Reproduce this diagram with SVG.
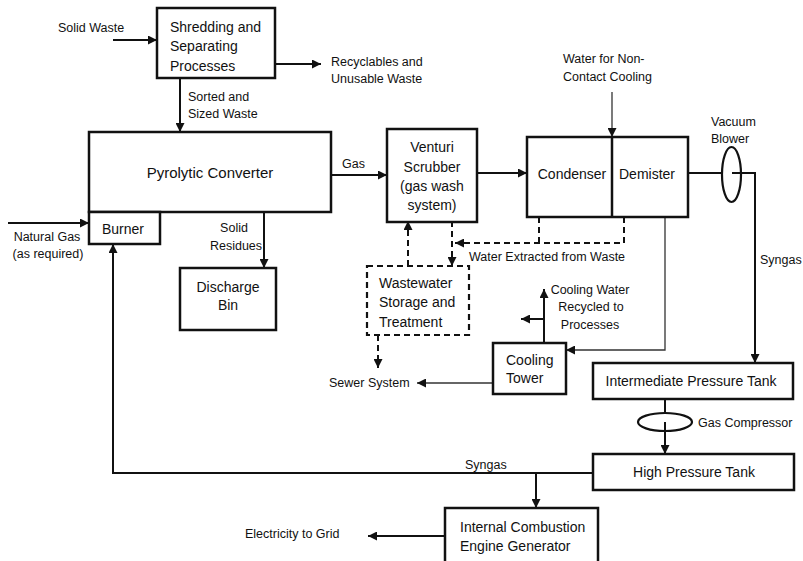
<svg xmlns="http://www.w3.org/2000/svg" width="803" height="561" viewBox="0 0 803 561">
<style>
text{font-family:"Liberation Sans",Arial,sans-serif;fill:#111}
.b{font-size:14px}
.s{font-size:12.5px}
.box{fill:#fff;stroke:#111;stroke-width:2.5}
.dbox{fill:#fff;stroke:#111;stroke-width:2.2;stroke-dasharray:6,4}
.ln{fill:none;stroke:#111;stroke-width:2}
.th{fill:none;stroke:#333;stroke-width:1.3}
.dl{fill:none;stroke:#111;stroke-width:2;stroke-dasharray:6,4}
.m{text-anchor:middle}
</style>
<defs>
<marker id="ah" viewBox="0 0 10 10" refX="10" refY="5" markerWidth="10" markerHeight="9" markerUnits="userSpaceOnUse" orient="auto">
<path d="M0,0 L10,5 L0,10 z" fill="#111"/>
</marker>
</defs>
<g id="connectors">
<path class="ln" d="M113,40 H157" marker-end="url(#ah)"/>
<path class="ln" d="M275,64 H321" marker-end="url(#ah)"/>
<path class="ln" d="M180,78 V132" marker-end="url(#ah)"/>
<path class="ln" d="M8,223 H89" marker-end="url(#ah)"/>
<path class="ln" d="M264,212 V268" marker-end="url(#ah)"/>
<path class="ln" d="M331,175 H387" marker-end="url(#ah)"/>
<path class="ln" d="M477,173 H527" marker-end="url(#ah)"/>
<path class="th" d="M612,92 V137" marker-end="url(#ah)"/>
<path class="ln" d="M688,173 H722"/>
<path class="ln" d="M732,173 H755 V363" marker-end="url(#ah)"/>
<path class="ln" d="M665,399 V413"/>
<path class="ln" d="M665,422 V454" marker-end="url(#ah)"/>
<path class="ln" d="M593,473 H113 V244" marker-end="url(#ah)"/>
<path class="ln" d="M536,473 V508" marker-end="url(#ah)"/>
<path class="ln" d="M445,536 H368" marker-end="url(#ah)"/>
<path class="dl" d="M539,217 V243"/>
<path class="dl" d="M624,217 V243 H455" marker-end="url(#ah)"/>
<path class="dl" d="M452,221 V266" marker-end="url(#ah)"/>
<path class="dl" d="M408,266 V221" marker-end="url(#ah)"/>
<path class="dl" d="M378,335 V368" marker-end="url(#ah)"/>
<path class="th" d="M665,217 V350 H566" marker-end="url(#ah)"/>
<path class="th" d="M493,383 H417" marker-end="url(#ah)"/>
<path class="ln" d="M544,343 V289" marker-end="url(#ah)"/>
<path class="ln" d="M544,319 H521" marker-end="url(#ah)"/>
</g>
<g id="labels">
<text class="s" x="58" y="32">Solid Waste</text>
<text class="s" x="331" y="66">Recyclables and</text>
<text class="s" x="331" y="83">Unusable Waste</text>
<text class="s" x="188" y="101">Sorted and</text>
<text class="s" x="188" y="118">Sized Waste</text>
<text class="s m" x="47" y="241">Natural Gas</text>
<text class="s m" x="48" y="258">(as required)</text>
<text class="s m" x="234" y="232">Solid</text>
<text class="s m" x="236" y="250">Residues</text>
<text class="s" x="342" y="168">Gas</text>
<text class="s" x="563" y="63">Water for Non-</text>
<text class="s" x="563" y="81">Contact Cooling</text>
<text class="s" x="711" y="126">Vacuum</text>
<text class="s" x="711" y="143">Blower</text>
<text class="s" x="760" y="264">Syngas</text>
<text class="s" x="469" y="261">Water Extracted from Waste</text>
<text class="s m" x="590" y="294">Cooling Water</text>
<text class="s m" x="591" y="311">Recycled to</text>
<text class="s m" x="590" y="329">Processes</text>
<text class="s" x="329" y="387">Sewer System</text>
<text class="s" x="698" y="427">Gas Compressor</text>
<text class="s" x="465" y="469">Syngas</text>
<text class="s" x="245" y="538">Electricity to Grid</text>
</g>
<g id="shredding">
<rect class="box" x="157" y="8" width="118" height="70"/>
<text class="b" x="170" y="32">Shredding and</text>
<text class="b" x="170" y="51">Separating</text>
<text class="b" x="170" y="71">Processes</text>
</g>
<g id="pyrolytic">
<rect class="box" x="89" y="132" width="242" height="80"/>
<text class="m" x="210" y="178" font-size="15">Pyrolytic Converter</text>
</g>
<g id="burner">
<rect class="box" x="89" y="212" width="71" height="32"/>
<text class="b m" x="123" y="234">Burner</text>
</g>
<g id="discharge">
<rect class="box" x="180" y="268" width="96" height="62"/>
<text class="b m" x="228" y="292">Discharge</text>
<text class="b m" x="228" y="310">Bin</text>
</g>
<g id="venturi">
<rect class="box" x="387" y="129" width="90" height="93"/>
<text class="b m" x="432" y="152">Venturi</text>
<text class="b m" x="432" y="172">Scrubber</text>
<text class="b m" x="432" y="191">(gas wash</text>
<text class="b m" x="432" y="210">system)</text>
</g>
<g id="condenser-demister">
<rect class="box" x="527" y="137" width="161" height="80"/>
<line x1="612" y1="137" x2="612" y2="217" stroke="#111" stroke-width="2.5"/>
<text class="b m" x="572" y="179">Condenser</text>
<text class="b m" x="647" y="179">Demister</text>
</g>
<g id="vacuum-blower">
<ellipse cx="731.5" cy="174.5" rx="9.5" ry="27.5" fill="none" stroke="#111" stroke-width="2.2"/>
</g>
<g id="wastewater">
<rect class="dbox" x="367" y="266" width="102" height="69"/>
<text class="b" x="379" y="288">Wastewater</text>
<text class="b" x="379" y="307">Storage and</text>
<text class="b" x="379" y="327">Treatment</text>
</g>
<g id="cooling-tower">
<rect class="box" x="493" y="343" width="73" height="51"/>
<text class="b" x="506" y="365">Cooling</text>
<text class="b" x="506" y="383">Tower</text>
</g>
<g id="intermediate-tank">
<rect class="box" x="593" y="363" width="200" height="36"/>
<text class="b m" x="691" y="386">Intermediate Pressure Tank</text>
</g>
<g id="gas-compressor">
<ellipse cx="665" cy="422" rx="27" ry="9" fill="none" stroke="#111" stroke-width="2.2"/>
</g>
<g id="high-pressure-tank">
<rect class="box" x="593" y="454" width="201" height="36"/>
<text class="b m" x="694" y="477">High Pressure Tank</text>
</g>
<g id="ice-generator">
<rect class="box" x="445" y="508" width="153" height="62"/>
<text class="b" x="460" y="532">Internal Combustion</text>
<text class="b" x="460" y="551">Engine Generator</text>
</g>
</svg>
